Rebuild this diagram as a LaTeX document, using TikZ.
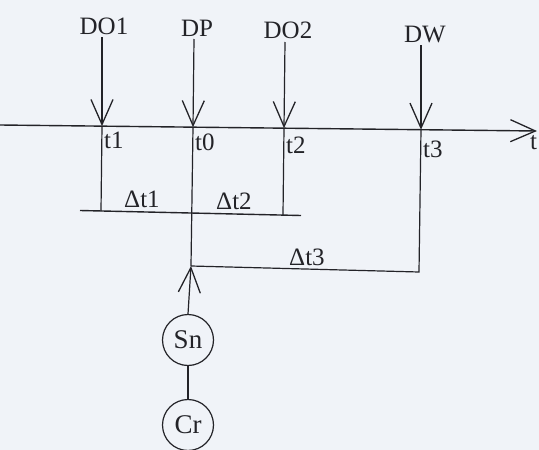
\documentclass[tikz,border=0pt]{standalone}
\usepackage{fontspec}
\setmainfont{Liberation Serif}
\usetikzlibrary{arrows.meta}
\definecolor{paper}{RGB}{240,243,248}
\definecolor{ink}{RGB}{35,35,40}
\begin{document}
\begin{tikzpicture}[x=1pt,y=-1pt,
  line/.style={draw=ink,line width=1.2pt},
  barb/.style={line,-{Straight Barb[length=25pt,width=22pt,line width=1.3pt]}},
  lbl/.style={text=ink,font=\fontsize{25}{27}\selectfont,inner sep=0pt},
  elem/.style={line,circle,minimum size=51pt,inner sep=0pt,text=ink,font=\fontsize{27}{29}\selectfont}]
\fill[paper] (0,0) rectangle (539,450);
\useasboundingbox (0,0) rectangle (539,450);

% time axis
\coordinate (axL) at (0,125);
\coordinate (axR) at (537,131);
\draw[barb,line width=1.4pt] (axL) -- (axR);
\node[lbl,anchor=base west] (tlab) at (530,149) {t};

% event instants on the axis
\coordinate (t1) at (102,126.1);
\coordinate (t0) at (193,127.2);
\coordinate (t2) at (284,128.2);
\coordinate (t3) at (421,129.7);

% incoming signals
\node[lbl,anchor=base] (DO1) at (104,34) {DO1};
\node[lbl,anchor=base] (DP)  at (197,36) {DP};
\node[lbl,anchor=base] (DO2) at (288,38) {DO2};
\node[lbl,anchor=base] (DW)  at (425,42) {DW};
\coordinate (s1) at (102,37);
\coordinate (s0) at (194,39);
\coordinate (s2) at (285,42);
\coordinate (s3) at (421,45);
\draw[barb] (s1) -- (t1);
\draw[barb] (s0) -- (t0);
\draw[barb] (s2) -- (t2);
\draw[barb] (s3) -- (t3);

\node[lbl,anchor=base west] (lt1) at (104,148) {t1};
\node[lbl,anchor=base west] (lt0) at (195,150) {t0};
\node[lbl,anchor=base west] (lt2) at (286,153) {t2};
\node[lbl,anchor=base west] (lt3) at (423,157) {t3};

% interval bars
\coordinate (bL) at (80,210.5);
\coordinate (bR) at (301,215.5);
\coordinate (b1) at (101,211);
\coordinate (b2) at (283,215);
\coordinate (cL) at (191,266);
\coordinate (c3) at (419,272);
\draw[line,line width=1.4pt] (bL) -- (bR);
\draw[line] (t1) -- (b1);
\draw[line] (t2) -- (b2);
\draw[line] (t3) -- (c3) -- (cL);
\node[lbl,anchor=base west] (d1) at (124,207) {Δt1};
\node[lbl,anchor=base west] (d2) at (216,209) {Δt2};
\node[lbl,anchor=base west] (d3) at (289,265) {Δt3};

% elements
\node[elem] (Sn) at (188,340) {Sn};
\node[elem] (Cr) at (188,425) {Cr};
\draw[line] (t0) -- (cL);
\draw[barb] (Sn.north) -- (cL);
\draw[line] (Sn) -- (Cr);
\end{tikzpicture}
\end{document}
